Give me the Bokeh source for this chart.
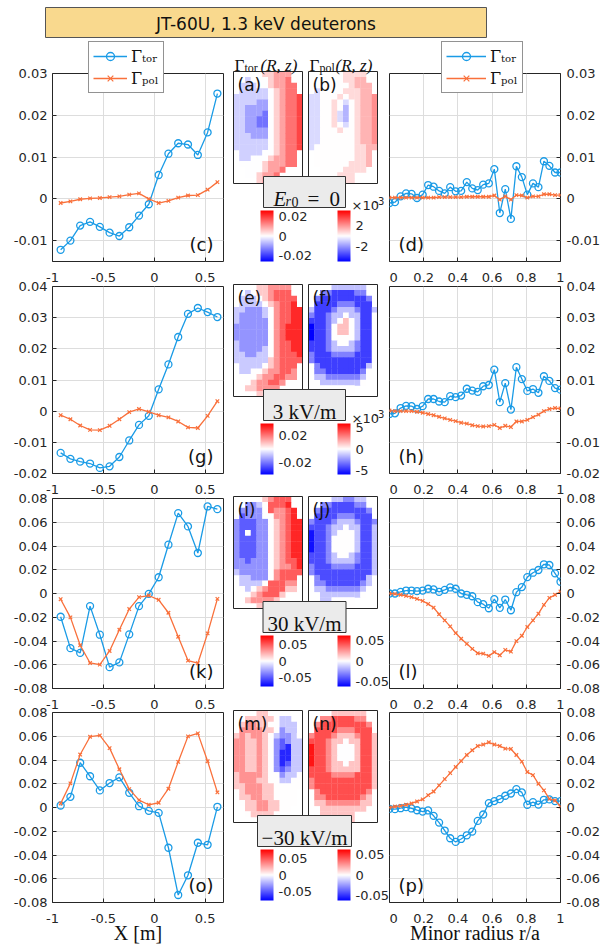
from bokeh.plotting import figure
from bokeh.layouts import column, row
from bokeh.models import (Range1d, FixedTicker, PrintfTickFormatter, Label, Legend,
                          LegendItem, ColorBar, LinearColorMapper, ColumnDataSource)
from bokeh.transform import transform
from bokeh.embed import file_html
from bokeh.resources import INLINE

SANS = "DejaVu Sans"
SERIF = "Liberation Serif"
INK = "#262626"
BLUE = "#1a9be6"
ORANGE = "#f9703b"

# ---------------- data ----------------
X_POS = [-0.92, -0.824, -0.728, -0.631, -0.535, -0.439, -0.343, -0.246, -0.15,
         -0.054, 0.043, 0.139, 0.235, 0.331, 0.428, 0.524, 0.62]
R_POS = [0.0, 0.032, 0.065, 0.097, 0.129, 0.161, 0.194, 0.226, 0.258, 0.29, 0.323,
         0.355, 0.387, 0.419, 0.452, 0.484, 0.516, 0.548, 0.581, 0.613, 0.645, 0.677,
         0.71, 0.742, 0.774, 0.806, 0.839, 0.871, 0.903, 0.935, 0.968, 1.0]

c_tor = [-0.0122, -0.0100, -0.0064, -0.0055, -0.0067, -0.0081, -0.0089, -0.0068, -0.0040,
         -0.0013, 0.0057, 0.0108, 0.0133, 0.0130, 0.0105, 0.0159, 0.0252]
c_pol = [-0.0010, -0.0006, -0.0001, 0.0001, 0.0002, 0.0004, 0.0006, 0.0010, 0.0013,
         0.0000, -0.0010, -0.0005, 0.0003, 0.0008, 0.0009, 0.0022, 0.0040]
g_tor = [-0.0134, -0.0153, -0.0162, -0.0168, -0.0182, -0.0177, -0.0147, -0.0094, -0.0044,
         -0.0015, 0.0070, 0.0150, 0.0238, 0.0312, 0.0331, 0.0318, 0.0302]
g_pol = [-0.0013, -0.0026, -0.0046, -0.0060, -0.0061, -0.0047, -0.0026, -0.0003, 0.0007,
         -0.0002, -0.0013, -0.0020, -0.0033, -0.0052, -0.0054, -0.0015, 0.0032]
k_tor = [-0.0196, -0.0460, -0.0500, -0.0106, -0.0347, -0.0620, -0.0580, -0.0344, -0.0106,
         -0.0003, 0.0137, 0.0411, 0.0677, 0.0565, 0.0341, 0.0733, 0.0710]
k_pol = [-0.0048, -0.0201, -0.0436, -0.0585, -0.0599, -0.0484, -0.0305, -0.0131, -0.0031,
         -0.0017, -0.0053, -0.0162, -0.0364, -0.0565, -0.0587, -0.0336, -0.0045]
o_tor = [0.0017, 0.0090, 0.0377, 0.0263, 0.0144, 0.0206, 0.0254, 0.0124, 0.0011,
         -0.0028, -0.0045, -0.0339, -0.0737, -0.0571, -0.0297, -0.0314, 0.0006]
o_pol = [0.0034, 0.0203, 0.0446, 0.0596, 0.0607, 0.0500, 0.0322, 0.0155, 0.0062,
         0.0023, 0.0040, 0.0158, 0.0384, 0.0599, 0.0624, 0.0390, 0.0127]

d_tor = [-0.0010, -0.0008, 0.0006, 0.0013, 0.0012, 0.0002, 0.0010, 0.0033, 0.0029, 0.0019,
         0.0013, 0.0028, 0.0018, 0.0019, 0.0040, 0.0025, 0.0021, 0.0034, 0.0037, 0.0071,
         -0.0034, 0.0023, -0.0048, 0.0078, 0.0052, 0.0010, 0.0037, 0.0028, 0.0090, 0.0079,
         0.0063, 0.0063]
d_pol = [0.0003, 0.0003, 0.0003, 0.0003, 0.0003, 0.0003, 0.0003, 0.0003, 0.0003, 0.0004,
         0.0004, 0.0004, 0.0004, 0.0004, 0.0005, 0.0005, 0.0005, 0.0005, 0.0005, 0.0008,
         -0.0002, 0.0006, -0.0002, 0.0009, 0.0008, 0.0003, 0.0006, 0.0006, 0.0011, 0.0011,
         0.0009, 0.0009]
h_tor = [-0.0009, -0.0007, 0.0010, 0.0017, 0.0016, 0.0007, 0.0016, 0.0039, 0.0039, 0.0031,
         0.0029, 0.0048, 0.0045, 0.0050, 0.0072, 0.0066, 0.0062, 0.0080, 0.0084, 0.0133,
         0.0029, 0.0090, 0.0005, 0.0141, 0.0103, 0.0065, 0.0071, 0.0059, 0.0112, 0.0097,
         0.0074, 0.0069]
h_pol = [0.0002, 0.0000, 0.0000, 0.0000, 0.0000, -0.0002, -0.0005, -0.0009, -0.0013, -0.0018,
         -0.0023, -0.0028, -0.0032, -0.0037, -0.0040, -0.0045, -0.0048, -0.0049, -0.0048, -0.0044,
         -0.0054, -0.0047, -0.0051, -0.0033, -0.0033, -0.0028, -0.0019, -0.0011, 0.0000, 0.0007,
         0.0010, 0.0009]
l_tor = [0.0000, 0.0000, 0.0014, 0.0025, 0.0025, 0.0020, 0.0025, 0.0040, 0.0034, 0.0014,
         0.0031, 0.0051, 0.0040, 0.0000, -0.0011, -0.0023, -0.0073, -0.0090, -0.0124, -0.0048,
         -0.0121, -0.0051, -0.0141, 0.0011, 0.0054, 0.0138, 0.0175, 0.0198, 0.0246, 0.0240,
         0.0170, 0.0099]
l_pol = [0.0000, -0.0003, -0.0011, -0.0020, -0.0031, -0.0045, -0.0062, -0.0088, -0.0119, -0.0175,
         -0.0226, -0.0277, -0.0333, -0.0381, -0.0424, -0.0466, -0.0503, -0.0506, -0.0525, -0.0494,
         -0.0520, -0.0475, -0.0489, -0.0401, -0.0356, -0.0282, -0.0226, -0.0170, -0.0096, -0.0037,
         -0.0011, 0.0017]
p_tor = [-0.0011, -0.0014, -0.0006, 0.0003, -0.0008, -0.0023, -0.0034, -0.0025, -0.0070, -0.0127,
         -0.0194, -0.0259, -0.0290, -0.0265, -0.0234, -0.0203, -0.0113, -0.0059, 0.0037, 0.0054,
         0.0070, 0.0099, 0.0118, 0.0155, 0.0127, 0.0023, 0.0045, 0.0025, 0.0065, 0.0068,
         0.0054, 0.0054]
p_pol = [0.0000, 0.0008, 0.0014, 0.0023, 0.0034, 0.0051, 0.0068, 0.0104, 0.0135, 0.0186,
         0.0239, 0.0290, 0.0341, 0.0392, 0.0442, 0.0482, 0.0518, 0.0530, 0.0549, 0.0530,
         0.0518, 0.0496, 0.0493, 0.0442, 0.0386, 0.0299, 0.0273, 0.0200, 0.0144, 0.0073,
         0.0059, 0.0008]

X_TICKS = [-1, -0.5, 0, 0.5]
R_TICKS = [0, 0.2, 0.4, 0.6, 0.8, 1]
Y_TICKS_1 = [-0.01, 0, 0.01, 0.02, 0.03]
Y_TICKS_2 = [-0.02, -0.01, 0, 0.01, 0.02, 0.03, 0.04]
Y_TICKS_3 = [-0.08, -0.06, -0.04, -0.02, 0, 0.02, 0.04, 0.06, 0.08]

# heat maps: 20 rows x 12 columns, code 1 = most negative, 5 = zero, 9 = most positive
map_a = ["....566777..", "..45556778..", ".4445567788.", ".4444456788.",
         "444444567889", "444433567889", "443333567889", "443332567889",
         "443322567889", "443322567889", "443333567889", "444333567889",
         "444444567889", "444444567889", ".4444556788.", ".4455567788.",
         ".5555677788.", "..5556778...", "..556778....", "....6777...."]
map_b = ["....556666..", "..55556677..", ".5555556777.", ".4555566677.",
         "445556566778", "445565456778", "445565356778", "445564356778",
         "445564356778", "445565456778", "445556556778", "445555556778",
         "445555556778", "455555556677", ".5555555667.", ".5555555667.",
         ".5555556667.", "..55556666..", "..555666....", "....5666...."]
map_e = ["....667777..", "..45667888..", ".4445678888.", ".4444567889.",
         "443334578899", "433334578899", "433333578899", "333333578999",
         "333333578999", "333333578999", "433333578899", "433334578899",
         "443344578889", "444444678888", ".4444567888.", ".4455677887.",
         ".5556778877.", "..5677887...", "..667777....", "....6677...."]
map_f = ["....444444..", "..33222233..", ".3222222223.", ".2222333222.",
         "422234443224", "322344544225", "222345654225", "122356654225",
         "122356654225", "122355554225", "222345543225", "222344443225",
         "322233332225", "322222222225", ".3222222224.", ".3322222235.",
         ".4433333345.", "..44444445..", "..555555....", "....5555...."]
map_i = ["....567888..", "..33458889..", ".3333587789.", ".2333557789.",
         "322233567899", "322233567899", "325233567899", "322233567899",
         "322233567899", "322233567899", "322233567899", "332333567889",
         "333333567789", "433333578888", ".4433357888.", ".4444588877.",
         ".5456788866.", "..5678886...", "..677776....", "....6666...."]
map_j = ["....443344..", "..33222233..", ".3222222223.", ".2222333222.",
         "322234443223", "222344544224", "122345554224", "122355554224",
         "122355554224", "122355554224", "222345543224", "222344443224",
         "322233332224", "322222222224", ".3222222224.", ".3322222234.",
         ".4433333345.", "..44444445..", "..445555....", "....5555...."]
map_m = ["....665555..", "..66666544..", ".6776655444.", ".7777665344.",
         "676776543345", "776676532344", "776676532144", "776676531144",
         "776676531144", "776676531244", "776676532344", "677776553445",
         "677766554455", "667776655555", ".6777665555.", ".6677665555.",
         ".5667766555.", "..66776655..", "..566665....", "....5655...."]
map_n = ["....666666..", "..77888877..", ".7888888887.", ".8888777888.",
         "788876667886", "888766566886", "988765556886", "988765556886",
         "988765556886", "988766566886", "888766666886", "888877778886",
         "788888888886", "788888888886", ".7888888887.", ".7788888876.",
         ".6677777766.", "..66666666..", "..666666....", "....6666...."]

# value of code 9 in each map, and colour-bar limits
peak_a, peak_b, peak_e, peak_f = 0.019, 0.0028, 0.032, 0.006
peak_i, peak_j, peak_m, peak_n = 0.066, 0.058, 0.066, 0.056
lim_a, lim_b, lim_e, lim_f = 0.026, 0.0048, 0.038, 0.006
lim_i, lim_j, lim_m, lim_n = 0.078, 0.062, 0.078, 0.061
cb_ticks_a = [-0.02, 0, 0.02]
cb_ticks_b = [-0.002, 0, 0.002]
cb_ticks_f = [-0.005, 0, 0.005]
cb_ticks_big = [-0.05, 0, 0.05]
cb_lbl_b = {-0.002: "-2", 0: "0", 0.002: "2"}
cb_lbl_f = {-0.005: "-5", 0: "0", 0.005: "5"}


def bwr_palette():
    pal = []
    for i in range(256):
        t = i / 255.0
        if t < 0.5:
            f = t / 0.5
            r = g = int(round(255 * f))
            b = 255
        else:
            f = (t - 0.5) / 0.5
            r = 255
            g = b = int(round(255 * (1 - f)))
        pal.append("#%02x%02x%02x" % (r, g, b))
    return pal


PAL = bwr_palette()


def base_fig(**kw):
    p = figure(output_backend="svg", toolbar_location=None, **kw)
    p.frame_align = False
    p.border_fill_alpha = 0
    return p


def style_axes(p, side):
    for ax in p.axis:
        ax.formatter = PrintfTickFormatter(format="%g")
        ax.major_label_text_font = SANS
        ax.major_label_text_font_size = "13px"
        ax.major_label_text_color = INK
        ax.major_tick_in = 4
        ax.major_tick_out = 0
        ax.major_tick_line_color = INK
        ax.minor_tick_line_color = None
        ax.axis_line_color = None
    p.xaxis.major_label_standoff = 11
    p.yaxis.major_label_standoff = 5 if side == "left" else 6
    p.grid.grid_line_color = "#dddddd"
    p.outline_line_color = INK
    p.outline_line_width = 1


def line_panel(xs, tor, pol, xr, xticks, yr, yticks, h, bt, bb, side, letter):
    if side == "left":
        w, bl, br = 230, 52, 7
    else:
        w, bl, br = 214, 0, 43
    p = base_fig(width=w, height=h, x_range=Range1d(*xr), y_range=Range1d(*yr),
                 y_axis_location=side, min_border_left=bl, min_border_right=br,
                 min_border_top=bt, min_border_bottom=bb)
    p.xaxis.ticker = FixedTicker(ticks=xticks)
    p.yaxis.ticker = FixedTicker(ticks=yticks)
    style_axes(p, side)
    p.line(xs, tor, line_color=BLUE, line_width=1.3)
    p.scatter(xs, tor, marker="circle", size=7, fill_color=None, line_color=BLUE,
              line_width=1.3)
    p.line(xs, pol, line_color=ORANGE, line_width=1.3)
    p.scatter(xs, pol, marker="x", size=5, line_color=ORANGE, line_width=1.2)
    if side == "left":
        p.add_layout(Label(x=161, y=7, x_units="screen", y_units="screen", text=letter,
                           text_font=SANS, text_font_size="18px", text_color="#111111",
                           text_align="right", text_baseline="bottom"))
    else:
        p.add_layout(Label(x=9, y=7, x_units="screen", y_units="screen", text=letter,
                           text_font=SANS, text_font_size="18px", text_color="#111111",
                           text_align="left", text_baseline="bottom"))
    return p


MID_W = 159
HM_W, HM_H = 69, 112
HM_X0 = (3, 78)
NCOL, NROW = 12, 20
CB_X = (30, 107)


def heat_cells(rows, peak, x0, top):
    xs, ys, vs = [], [], []
    for r, s in enumerate(rows):
        for c, ch in enumerate(s):
            if ch in "123456789":
                xs.append(x0 + (c + 0.5) * HM_W / NCOL)
                ys.append(top + (r + 0.5) * HM_H / NROW)
                vs.append((int(ch) - 5) / 4.0 * peak)
    return dict(x=xs, y=ys, v=vs)


def add_text(p, x, y, text, size, font=SERIF, style="normal", align="left",
             baseline="alphabetic", color="#111111"):
    p.add_layout(Label(x=x, y=y, text=text, text_font=font, text_font_size=size,
                       text_font_style=style, text_align=align, text_baseline=baseline,
                       text_color=color))


def mid_panel(H, top, maps, letters, box_w, box_kind, header=False):
    p = base_fig(width=MID_W, height=H, x_range=Range1d(0, MID_W), y_range=Range1d(H, 0),
                 x_axis_location=None, y_axis_location=None, min_border=0)
    p.background_fill_alpha = 0
    p.grid.visible = False
    p.outline_line_color = None
    for (rows, peak, vmax, ticks, overrides), x0, letter, cbx in zip(maps, HM_X0, letters, CB_X):
        mapper = LinearColorMapper(palette=PAL, low=-vmax, high=vmax)
        src = ColumnDataSource(heat_cells(rows, peak, x0, top))
        p.rect(x="x", y="y", width=HM_W / NCOL, height=HM_H / NROW, source=src,
               fill_color=transform("v", mapper), line_color=None, dilate=True)
        p.rect(x=[x0 + HM_W / 2], y=[top + HM_H / 2], width=HM_W, height=HM_H,
               fill_color=None, line_color=INK, line_width=1)
        add_text(p, x0 + 4, top + 3, letter, "17px", font=SANS, baseline="top")
        cb_top = top + 139
        cb = ColorBar(color_mapper=mapper, location=(cbx, H - cb_top - 51), width=13,
                      height=51, padding=0, margin=0, ticker=FixedTicker(ticks=ticks),
                      formatter=PrintfTickFormatter(format="%g"),
                      major_label_text_font=SANS, major_label_text_font_size="13px",
                      major_label_text_color=INK, major_tick_line_color=None,
                      minor_tick_line_color=None, bar_line_color=None,
                      border_line_color=None, background_fill_alpha=0, label_standoff=5)
        if overrides:
            cb.major_label_overrides = overrides
            add_text(p, cbx + 14, cb_top - 5, "×10", "13px", font=SANS, color=INK)
            add_text(p, cbx + 37, cb_top - 10, "-3", "10px", font=SANS, color=INK)
        p.add_layout(cb)
    # label box
    by = top + 105
    p.rect(x=[74], y=[by + 15.5], width=box_w, height=31, fill_color="#ebebeb",
           line_color="#333333", line_width=1)
    if box_kind == "E":
        add_text(p, 43, by + 22, "E", "21px", style="italic")
        add_text(p, 55, by + 25, "r", "14px", style="italic")
        add_text(p, 61, by + 25, "0", "14px")
        add_text(p, 77, by + 22, "=", "21px")
        add_text(p, 99, by + 22, "0", "21px")
    else:
        add_text(p, 74, by + 22, box_kind, "21px", align="center")
    if header:
        for x0, sub in zip(HM_X0, ("tor", "pol")):
            add_text(p, x0 + 1, top - 6, "Γ", "17px")
            add_text(p, x0 + 11, top - 4, sub, "12px")
            add_text(p, x0 + 27, top - 6, "(R, z)", "17px", style="italic")
    return p


# ---------------- layout ----------------
ROW_H = (249, 227, 230, 245)
TOPS = (33, 12, 12, 11)
BOTS = (28, 28, 28, 44)
ROW_MARGIN = (40, 179, -15, -15)
TITLE_H = 95

rows_spec = [
    (c_tor, c_pol, d_tor, d_pol, (-0.015, 0.03), Y_TICKS_1, "(c)", "(d)",
     [(map_a, peak_a, lim_a, cb_ticks_a, None), (map_b, peak_b, lim_b, cb_ticks_b, cb_lbl_b)],
     ("(a)", "(b)"), 82, "E"),
    (g_tor, g_pol, h_tor, h_pol, (-0.02, 0.04), Y_TICKS_2, "(g)", "(h)",
     [(map_e, peak_e, lim_e, cb_ticks_a, None), (map_f, peak_f, lim_f, cb_ticks_f, cb_lbl_f)],
     ("(e)", "(f)"), 82, "3 kV/m"),
    (k_tor, k_pol, l_tor, l_pol, (-0.08, 0.08), Y_TICKS_3, "(k)", "(l)",
     [(map_i, peak_i, lim_i, cb_ticks_big, None), (map_j, peak_j, lim_j, cb_ticks_big, None)],
     ("(i)", "(j)"), 83, "30 kV/m"),
    (o_tor, o_pol, p_tor, p_pol, (-0.08, 0.08), Y_TICKS_3, "(o)", "(p)",
     [(map_m, peak_m, lim_m, cb_ticks_big, None), (map_n, peak_n, lim_n, cb_ticks_big, None)],
     ("(m)", "(n)"), 94, "−30 kV/m"),
]

# top strip: title box and the two legends (painted over the first row)
title = base_fig(width=603, height=TITLE_H, x_range=Range1d(0, 603),
                 y_range=Range1d(TITLE_H, 0), x_axis_location=None, y_axis_location=None,
                 min_border=0)
title.background_fill_alpha = 0
title.grid.visible = False
title.outline_line_color = None
title.rect(x=[265.5], y=[22], width=441, height=30, fill_color="#f9d98e",
           line_color="#555555", line_width=1)
title.add_layout(Label(x=265.5, y=23, text="JT-60U, 1.3 keV deuterons", text_font=SANS,
                       text_font_size="17px", text_align="center", text_baseline="middle",
                       text_color="#111111"))
NO_POINT = [float("nan")]   # legend proxies: styled renderers that draw nothing
for lx, gw in ((88, 34), (441, 40)):
    lt = title.line(NO_POINT, NO_POINT, line_color=BLUE, line_width=1.3)
    mt = title.scatter(NO_POINT, NO_POINT, marker="circle", size=7, fill_color=None,
                       line_color=BLUE, line_width=1.3)
    lp = title.line(NO_POINT, NO_POINT, line_color=ORANGE, line_width=1.3)
    mp = title.scatter(NO_POINT, NO_POINT, marker="x", size=5, line_color=ORANGE,
                       line_width=1.2)
    leg = Legend(items=[LegendItem(label="Γₜₒᵣ", renderers=[lt, mt]),
                        LegendItem(label="Γₚₒₗ", renderers=[lp, mp])],
                 location=(lx, TITLE_H - 93), padding=4, spacing=2, margin=0,
                 glyph_width=gw, glyph_height=20, label_height=20, label_standoff=4,
                 label_text_font="DejaVu Serif", label_text_font_size="16px",
                 label_text_color="#111111", border_line_color=INK, border_line_width=1,
                 background_fill_color="white", background_fill_alpha=1)
    title.add_layout(leg)

layout_rows = []
for i, spec in enumerate(rows_spec):
    (lt_, lp_, rt_, rp_, yr, yt, let_l, let_r, maps, hl, bw, bk) = spec
    left = line_panel(X_POS, lt_, lp_, (-1, 0.68), X_TICKS, yr, yt, ROW_H[i], TOPS[i],
                      BOTS[i], "left", let_l)
    right = line_panel(R_POS, rt_, rp_, (0, 1), R_TICKS, yr, yt, ROW_H[i], TOPS[i],
                       BOTS[i], "right", let_r)
    mid = mid_panel(ROW_H[i], TOPS[i] - 2, maps, hl, bw, bk, header=(i == 0))
    if i == 3:
        for fig, lab in ((left, "X [m]"), (right, "Minor radius r/a")):
            fig.xaxis.axis_label = lab
            fig.xaxis.axis_label_text_font = SERIF
            fig.xaxis.axis_label_text_font_size = "20px"
            fig.xaxis.axis_label_text_font_style = "normal"
            fig.xaxis.axis_label_text_color = "#111111"
            fig.xaxis.axis_label_standoff = -4
    layout_rows.append(row(left, mid, right, margin=(ROW_MARGIN[i], 0, 0, 0)))
    if i == 0:
        # the strip comes after row 1 in the page so that it is painted on top
        layout_rows.append(column(title, margin=(-(40 + ROW_H[0]), 0, 0, 0)))

page = column(*layout_rows)
open("out.html", "w").write(file_html(page, INLINE))
